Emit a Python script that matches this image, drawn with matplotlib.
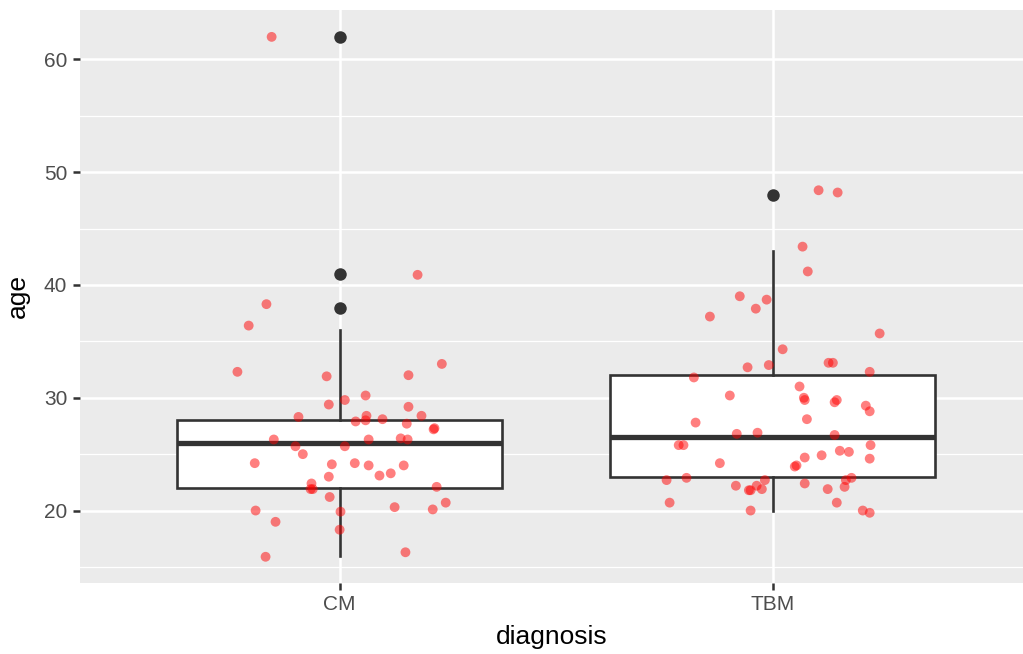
import numpy as np
import matplotlib
matplotlib.use("Agg")
import matplotlib.pyplot as plt
from matplotlib.ticker import MultipleLocator

plt.rcParams['font.family'] = ['Liberation Sans', 'DejaVu Sans']

diagnoses = ["CM", "TBM"]

# jittered age values and their horizontal jitter (category units)
cm_age = [62.0, 38.3, 36.4, 32.3, 40.9, 31.9, 29.4, 29.8, 30.2, 28.3,
          28.4, 27.9, 28.0, 28.1, 32.0, 33.0, 29.2, 28.4, 27.7, 27.3,
          27.2, 26.3, 25.7, 25.0, 24.2, 24.1, 24.2, 24.0, 23.1, 23.3,
          24.0, 23.0, 22.4, 21.9, 21.9, 25.7, 26.3, 26.4, 26.3, 21.2,
          19.9, 18.3, 20.0, 19.0, 15.9, 16.3, 22.1, 20.7, 20.1, 20.3]
cm_jit = [-0.157, -0.169, -0.210, -0.236, 0.180, -0.030, -0.025, 0.012, 0.060, -0.095,
          0.062, 0.037, 0.060, 0.099, 0.159, 0.236, 0.159, 0.189, 0.155, 0.219,
          0.217, -0.152, -0.102, -0.085, -0.196, -0.018, 0.035, 0.067, 0.092, 0.118,
          0.148, -0.025, -0.065, -0.067, -0.062, 0.012, 0.067, 0.141, 0.157, -0.023,
          0.002, 0.000, -0.194, -0.148, -0.171, 0.152, 0.224, 0.245, 0.215, 0.127]

tbm_age = [48.4, 48.2, 43.4, 41.2, 39.0, 38.7, 37.9, 37.2, 35.7, 34.3,
           32.7, 32.9, 33.1, 33.1, 32.3, 31.8, 31.0, 30.2, 30.0, 29.8,
           29.6, 29.8, 29.3, 28.8, 28.1, 27.8, 26.8, 26.9, 26.7, 25.8,
           25.8, 25.8, 24.6, 25.3, 25.2, 24.9, 24.7, 24.2, 23.9, 24.0,
           22.7, 22.9, 22.9, 22.7, 22.2, 22.7, 22.2, 21.8, 21.8, 21.9,
           22.4, 21.9, 22.1, 20.7, 20.7, 20.0, 20.0, 19.8]
tbm_jit = [0.106, 0.150, 0.069, 0.081, -0.076, -0.014, -0.039, -0.145, 0.247, 0.023,
           -0.058, -0.009, 0.129, 0.139, 0.224, -0.182, 0.062, -0.099, 0.072, 0.074,
           0.143, 0.148, 0.215, 0.224, 0.079, -0.178, -0.083, -0.035, 0.143, -0.217,
           -0.206, 0.226, 0.224, 0.155, 0.176, 0.113, 0.074, -0.122, 0.051, 0.055,
           -0.245, -0.199, 0.182, 0.169, -0.085, -0.018, -0.037, -0.051, -0.055, -0.025,
           0.074, 0.127, 0.166, -0.238, 0.148, -0.051, 0.208, 0.224]

# box statistics on the raw (integer) ages
q1 = [22, 23]
medians = [26, 26.5]
q3 = [28, 32]
whisk_lo = [16, 20]
whisk_hi = [36, 43]
outliers = [[38, 41, 62], [48]]

fig = plt.figure(figsize=(10.23, 6.54), dpi=100)
ax = fig.add_axes([0.078, 0.109, 0.922, 0.876])
ax.set_facecolor('#EBEBEB')

stats = []
for i in range(2):
    stats.append(dict(med=medians[i], q1=q1[i], q3=q3[i], whislo=whisk_lo[i],
                      whishi=whisk_hi[i], fliers=outliers[i], label=diagnoses[i]))

ax.bxp(stats, positions=[1, 2], widths=0.75, showcaps=False, patch_artist=True,
       boxprops=dict(facecolor='white', edgecolor='#333333', linewidth=1.9),
       medianprops=dict(color='#333333', linewidth=3.8, solid_capstyle='butt'),
       whiskerprops=dict(color='#333333', linewidth=1.9),
       flierprops=dict(marker='o', markerfacecolor='#333333', markeredgecolor='none',
                       markersize=9),
       zorder=3)

ax.scatter(1 + np.array(cm_jit), cm_age, s=50, color='red', alpha=0.5,
           edgecolors='none', zorder=4)
ax.scatter(2 + np.array(tbm_jit), tbm_age, s=50, color='red', alpha=0.5,
           edgecolors='none', zorder=4)

# the panel runs off the right edge of the figure
ax.set_xlim(0.4, 2.578)
ax.set_ylim(13.6, 64.4)
ax.yaxis.set_major_locator(MultipleLocator(10))
ax.yaxis.set_minor_locator(MultipleLocator(5))
ax.set_xticks([1, 2])
ax.set_xticklabels(diagnoses)

ax.grid(which='major', color='white', linewidth=1.8)
ax.grid(which='minor', axis='y', color='white', linewidth=0.9)
ax.set_axisbelow(True)
for s in ax.spines.values():
    s.set_visible(False)

ax.tick_params(which='major', length=5, width=1.8, color='#333333',
               labelcolor='#4D4D4D', labelsize=15, pad=4)
ax.tick_params(which='minor', length=0)

ax.set_xlabel('diagnosis', fontsize=19, labelpad=8)
ax.set_ylabel('age', fontsize=19, labelpad=10)

fig.savefig('out.png', dpi=100)
